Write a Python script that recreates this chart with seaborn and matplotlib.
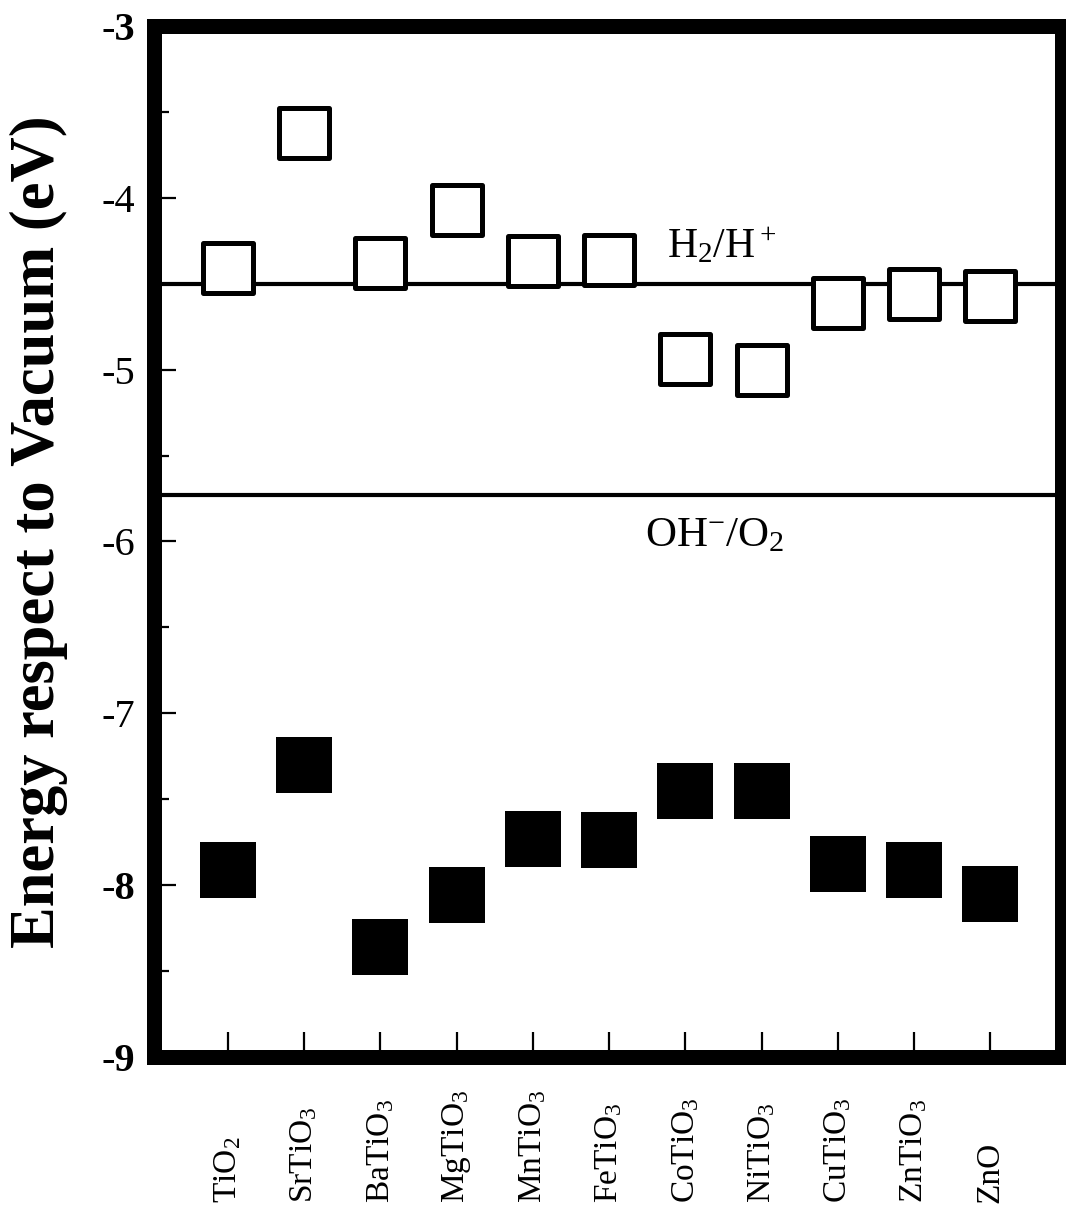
import matplotlib
matplotlib.use("Agg")
import matplotlib.pyplot as plt
import matplotlib.transforms as mtransforms
from matplotlib.ticker import MultipleLocator, FixedLocator
import seaborn as sns
import pandas as pd

# ---- data ----
materials = ["TiO$_2$", "SrTiO$_3$", "BaTiO$_3$", "MgTiO$_3$", "MnTiO$_3$", "FeTiO$_3$",
             "CoTiO$_3$", "NiTiO$_3$", "CuTiO$_3$", "ZnTiO$_3$", "ZnO"]
conduction_band = [-4.41, -3.62, -4.38, -4.07, -4.37, -4.36, -4.94, -5.00, -4.61, -4.56, -4.57]
valence_band = [-7.91, -7.30, -8.36, -8.06, -7.73, -7.74, -7.45, -7.45, -7.875, -7.91, -8.05]
h2_level = -4.5
o2_level = -5.73
y_ticks = [-3, -4, -5, -6, -7, -8, -9]
y_tick_labels = ["-3", "-4", "-5", "-6", "-7", "-8", "-9"]

sns.set_style("ticks")
plt.rcParams["font.family"] = ["Liberation Serif", "DejaVu Serif"]
plt.rcParams["mathtext.fontset"] = "custom"
plt.rcParams["mathtext.rm"] = "Liberation Serif"
plt.rcParams["mathtext.it"] = "Liberation Serif:italic"
plt.rcParams["mathtext.bf"] = "Liberation Serif:bold"
for k in ("text.color", "axes.labelcolor", "xtick.color", "ytick.color", "axes.edgecolor"):
    plt.rcParams[k] = "black"

keys = [f"m{i}" for i in range(len(materials))]
cb_df = pd.DataFrame({"material": keys, "energy": conduction_band})
vb_df = pd.DataFrame({"material": keys, "energy": valence_band})

fig = plt.figure(figsize=(10.66, 12.11), dpi=100)
ax = fig.add_axes([0.1449, 0.1272, 0.9962 - 0.1449, 0.9785 - 0.1272])

ax.axhline(h2_level, color="black", lw=3.0, zorder=1)
ax.axhline(o2_level, color="black", lw=3.0, zorder=1)

sns.scatterplot(data=cb_df, x="material", y="energy", marker="s", s=1300,
                facecolor="white", edgecolor="black", linewidth=3.6, ax=ax, zorder=3)
sns.scatterplot(data=vb_df, x="material", y="energy", marker="s", s=1570,
                color="black", edgecolor="black", linewidth=0, ax=ax, zorder=3)

ax.set_xlim(-0.965, 10.94)
ax.set_ylim(-9, -3)

for sp in ax.spines.values():
    sp.set_visible(True)
    sp.set_linewidth(10.8)
    sp.set_color("black")

ax.yaxis.set_major_locator(FixedLocator(y_ticks))
ax.set_yticklabels(y_tick_labels)
ax.yaxis.set_minor_locator(MultipleLocator(0.5))
ax.tick_params(axis="y", which="major", direction="in", length=16, width=1.6,
               labelsize=29, pad=14, colors="black")
ax.tick_params(axis="y", which="minor", direction="in", length=11, width=1.6, colors="black")
ax.tick_params(axis="x", which="major", direction="in", length=18, width=1.6,
               labelbottom=False, colors="black")
for lbl in ax.get_yticklabels():
    if lbl.get_text() in ("-3", "-8", "-9"):
        lbl.set_fontweight("bold")

ax.set_xlabel("")
ax.set_ylabel("Energy respect to Vacuum (eV)", fontsize=45, fontweight="bold", color="black")
ax.yaxis.set_label_coords(-0.0953, 0.51)

# rotated category labels, bottom-aligned
trans = mtransforms.blended_transform_factory(ax.transData, fig.transFigure)
for i, name in enumerate(materials):
    ax.text(i, 1 - 1203 / 1211, name, rotation=90, ha="center", va="bottom",
            fontsize=24, transform=trans, clip_on=False, color="black")

ax.text(5.76, -4.345, "H$_2$/H$^+$", fontsize=30, ha="left", va="baseline", zorder=4)
ax.text(5.47, -6.027, "OH$^{-}$/O$_2$", fontsize=31, ha="left", va="baseline", zorder=4)

fig.savefig("out.png", dpi=100)
